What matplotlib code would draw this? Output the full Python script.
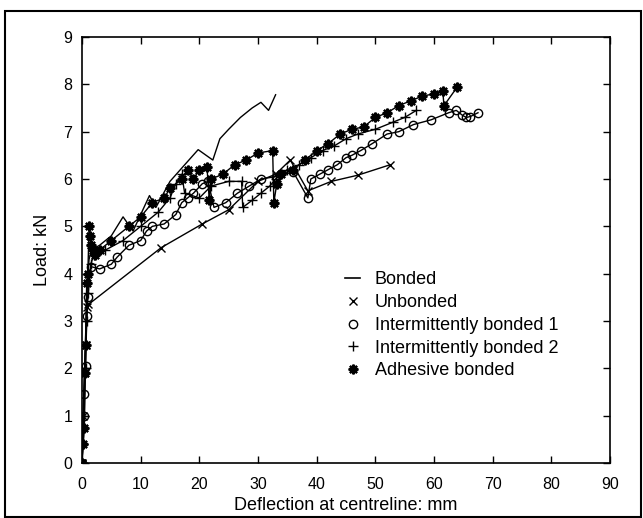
import matplotlib.pyplot as plt
from matplotlib.lines import Line2D
from matplotlib.patches import Rectangle

plt.rcParams['font.family'] = ['Liberation Sans', 'DejaVu Sans']

# deflection (mm) / load (kN)
bonded_x = [0, 0.2, 0.5, 0.8, 1.2, 1.6, 3, 5, 7, 8.7, 11.5, 12.6, 15, 17.5, 19.8, 22.3, 23.5, 25, 27, 29, 30.5, 31.8, 33]
bonded_y = [0, 1.0, 2.2, 3.5, 4.3, 4.5, 4.6, 4.8, 5.2, 4.9, 5.65, 5.4, 5.95, 6.3, 6.62, 6.4, 6.85, 7.05, 7.3, 7.5, 7.62, 7.45, 7.78]

unbonded_x = [0, 0.2, 0.4, 0.6, 0.9, 1.1, 13.5, 20.5, 25, 30, 33, 35.5, 38.5, 42.5, 47, 52.5]
unbonded_y = [0, 1.0, 1.9, 2.5, 3.3, 3.35, 4.55, 5.05, 5.35, 5.95, 6.1, 6.4, 5.75, 5.95, 6.08, 6.3]

ib1_x = [0, 0.3, 0.4, 0.6, 0.8, 1.0, 1.5, 3, 5, 6, 8, 10, 11, 12, 14, 16, 17, 18, 19, 20.5, 21.5,
         22.5, 24.5, 26.5, 28.5, 30.5, 33, 36, 38.5, 39, 40.5, 42, 43.5, 45, 46, 47.5, 49.5, 52,
         54, 56.5, 59.5, 62.5, 63.8, 64.8, 65.5, 66.2, 67.5]
ib1_y = [0, 1.0, 1.45, 2.05, 3.1, 3.5, 4.15, 4.1, 4.2, 4.35, 4.6, 4.7, 4.9, 5.0, 5.05, 5.25, 5.5, 5.6, 5.7, 5.9, 5.95,
         5.4, 5.5, 5.7, 5.85, 6.0, 6.05, 6.15, 5.6, 6.0, 6.1, 6.2, 6.3, 6.45, 6.5, 6.6, 6.75, 6.95,
         7.0, 7.15, 7.25, 7.4, 7.45, 7.35, 7.3, 7.32, 7.4]

ib2_x = [0, 0.2, 0.4, 0.6, 0.8, 1.0, 1.5, 2, 4, 7, 10, 13, 15, 16, 17, 17.5, 20, 22, 25, 27.2, 27.4,
         29, 30.5, 32, 33, 35, 37, 39, 41, 43, 45, 47, 50, 53, 55, 57]
ib2_y = [0, 0.4, 1.0, 2.0, 3.0, 3.6, 4.2, 4.4, 4.5, 4.7, 5.0, 5.3, 5.6, 5.9, 6.1, 5.7, 5.6, 5.85, 5.95, 5.95, 5.4,
         5.55, 5.7, 5.85, 6.0, 6.2, 6.3, 6.45, 6.6, 6.7, 6.85, 6.95, 7.05, 7.2, 7.3, 7.45]

adhesive_x = [0, 0.2, 0.4, 0.5, 0.6, 0.8, 1.0, 1.2, 1.4, 1.6, 1.8, 2.2, 3, 5, 8, 10, 12, 14, 15, 17, 18,
              19, 20, 21.3, 21.7, 22, 24, 26, 28, 30, 32.5, 32.7, 33.2, 34, 36, 38, 40, 42, 44, 46,
              48, 50, 52, 54, 56, 58, 60, 61.5, 61.7, 64]
adhesive_y = [0, 0.4, 0.75, 1.9, 2.5, 3.8, 4.0, 5.0, 4.8, 4.6, 4.5, 4.4, 4.5, 4.7, 5.0, 5.2, 5.5, 5.6, 5.8, 6.0, 6.2,
              6.0, 6.2, 6.25, 5.55, 6.0, 6.1, 6.3, 6.4, 6.55, 6.6, 5.5, 5.9, 6.1, 6.2, 6.4, 6.6, 6.75, 6.95, 7.05,
              7.1, 7.3, 7.4, 7.55, 7.65, 7.75, 7.8, 7.85, 7.55, 7.95]

labels = ['Bonded', 'Unbonded', 'Intermittently bonded 1', 'Intermittently bonded 2', 'Adhesive bonded']

fig = plt.figure(figsize=(6.43, 5.18), dpi=100)
ax = fig.add_axes([82 / 643, 1 - 463 / 518, 528 / 643, 426 / 518])

styles = [
    dict(marker=None),
    dict(marker='x', ms=6, mew=1.0),
    dict(marker='o', ms=6, mfc='none', mew=1.0),
    dict(marker='+', ms=7, mew=1.0),
    dict(marker=(8, 2, 0), ms=7, mew=1.6),
]
series = [(bonded_x, bonded_y), (unbonded_x, unbonded_y), (ib1_x, ib1_y), (ib2_x, ib2_y),
          (adhesive_x, adhesive_y)]
for (xs, ys), st in zip(series, styles):
    ax.plot(xs, ys, color='black', lw=1.0, **st)

ax.set_xlim(0, 90)
ax.set_ylim(0, 9)
ax.set_xticks(range(0, 91, 10))
ax.set_yticks(range(0, 10))
ax.tick_params(direction='in', top=True, right=True, length=5, width=1, labelsize=11.5)
ax.tick_params(axis='x', pad=10)
ax.tick_params(axis='y', pad=7)
for sp in ax.spines.values():
    sp.set_linewidth(1.2)

ax.set_xlabel('Deflection at centreline: mm', fontsize=13, labelpad=4)
ax.set_ylabel('Load: kN', fontsize=13, labelpad=9)

# legend: line for the first entry, markers only for the rest
handles = [Line2D([], [], color='black', lw=1.2)]
for st in styles[1:]:
    handles.append(Line2D([], [], color='black', ls='none', **st))
ax.legend(handles, labels, loc='upper left', bbox_to_anchor=(0.498, 0.450), frameon=False,
          fontsize=13, handlelength=0.85, handletextpad=0.8, labelspacing=0.32,
          borderpad=0, borderaxespad=0)

# outer frame around the figure
fig.patches.append(Rectangle((5 / 643, 0.002), 1 - 5 / 643 - 0.003, 1 - 11 / 518 - 0.002,
                             transform=fig.transFigure, fill=False, lw=1.5, ec='black'))

fig.savefig('out.png', dpi=100)
